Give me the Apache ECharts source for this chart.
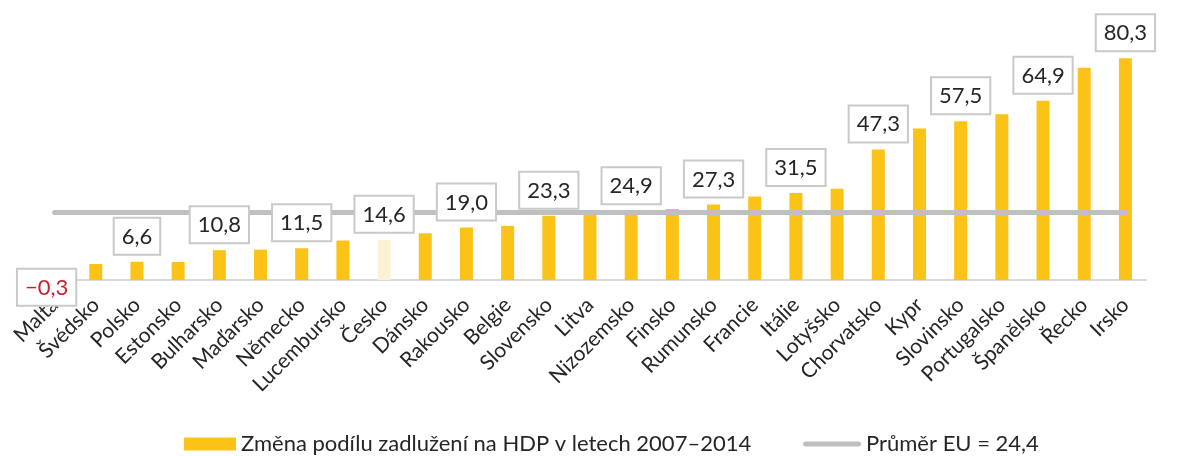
<!DOCTYPE html>
<html>
<head>
<meta charset="utf-8">
<script src="https://cdn.jsdelivr.net/npm/echarts@6/dist/echarts.min.js"></script>
<style>
  html, body { margin: 0; padding: 0; background: #fff; }
  #chart { width: 1177px; height: 456px; }
</style>
</head>
<body>
<div id="chart"></div>
<script>
// zeme (kategorie na ose x)
const countries = ['Malta', 'Švédsko', 'Polsko', 'Estonsko', 'Bulharsko', 'Maďarsko', 'Německo', 'Lucembursko', 'Česko',
  'Dánsko', 'Rakousko', 'Belgie', 'Slovensko', 'Litva', 'Nizozemsko', 'Finsko', 'Rumunsko', 'Francie', 'Itálie',
  'Lotyšsko', 'Chorvatsko', 'Kypr', 'Slovinsko', 'Portugalsko', 'Španělsko', 'Řecko', 'Irsko']
// zmena podilu zadluzeni na HDP 2007-2014 (p.b.)
const debtChange = [-0.3, 5.8, 6.6, 6.5, 10.8, 11.0, 11.5, 14.3, 14.6,
  16.9, 19.0, 19.6, 23.3, 24.0, 24.9, 25.7, 27.3, 30.2, 31.5,
  33.0, 47.3, 54.9, 57.5, 60.0, 64.9, 76.9, 80.3]
const euAverage = 24.4
const highlight = 'Česko'

const barName = 'Změna podílu zadlužení na HDP v letech 2007–2014'
const lineName = 'Průměr EU = 24,4'
const font = 'Lato'

function fmt(v) {
  return v.toFixed(1).replace('.', ',').replace('-', '−')
}

const chart = echarts.init(document.getElementById('chart'), null, { renderer: 'canvas' })

const barData = debtChange.map((v, i) => ({
  value: v,
  itemStyle: { color: countries[i] === highlight ? '#FBF1D4' : '#FBC217' }
}))

// popisky jen u kazdeho druheho sloupce, kresleny nad carou prumeru
const labelData = debtChange.map((v, i) => {
  const item = { value: v, label: { show: i % 2 === 0 } }
  if (v < 0) {
    item.label.position = 'bottom'
    item.label.offset = [-8, -19]
    item.label.color = '#C8202F'
  }
  return item
})

chart.setOption({
  animation: false,
  grid: {
    left: 34,
    right: 31,
    top: 31.5,
    height: 254
  },
  xAxis: {
    type: 'category',
    data: countries,
    axisLine: { lineStyle: { color: '#D9D9D9', width: 2 } },
    axisTick: { show: false },
    axisLabel: {
      interval: 0,
      rotate: 45,
      margin: 16,
      fontFamily: font,
      fontSize: 21,
      color: '#262626'
    }
  },
  yAxis: {
    type: 'value',
    min: -2,
    max: 90,
    show: false
  },
  legend: [
    {
      data: [{ name: barName, icon: 'rect' }],
      left: 179,
      top: 428,
      itemWidth: 52,
      itemHeight: 13,
      textStyle: { fontFamily: font, fontSize: 22, color: '#262626' }
    },
    {
      data: [{ name: lineName, icon: 'path://M2.5,0H55.5A2.5,2.5,0,0,1,55.5,5H2.5A2.5,2.5,0,0,1,2.5,0Z' }],
      left: 798,
      top: 428,
      itemWidth: 58,
      itemHeight: 5,
      textStyle: { fontFamily: font, fontSize: 22, color: '#262626' }
    }
  ],
  series: [
    {
      name: barName,
      type: 'bar',
      barWidth: 13,
      data: barData,
      itemStyle: { color: '#FBC217' },
      z: 2
    },
    {
      name: lineName,
      type: 'line',
      data: countries.map(() => euAverage),
      showSymbol: false,
      symbol: 'none',
      itemStyle: { color: '#BEBFC1' },
      lineStyle: { color: '#BEBFC1', width: 5, cap: 'round' },
      z: 3
    },
    {
      name: 'labels',
      type: 'bar',
      barWidth: 13,
      barGap: '-100%',
      data: labelData,
      itemStyle: { color: 'rgba(0,0,0,0)' },
      silent: true,
      z: 4,
      label: {
        position: 'top',
        distance: 8,
        formatter: p => fmt(p.value),
        fontFamily: font,
        fontSize: 22,
        lineHeight: 26,
        color: '#262626',
        backgroundColor: '#fff',
        borderColor: '#C9C9C9',
        borderWidth: 2,
        padding: [5, 7, 4, 7]
      }
    }
  ]
})
</script>
</body>
</html>
